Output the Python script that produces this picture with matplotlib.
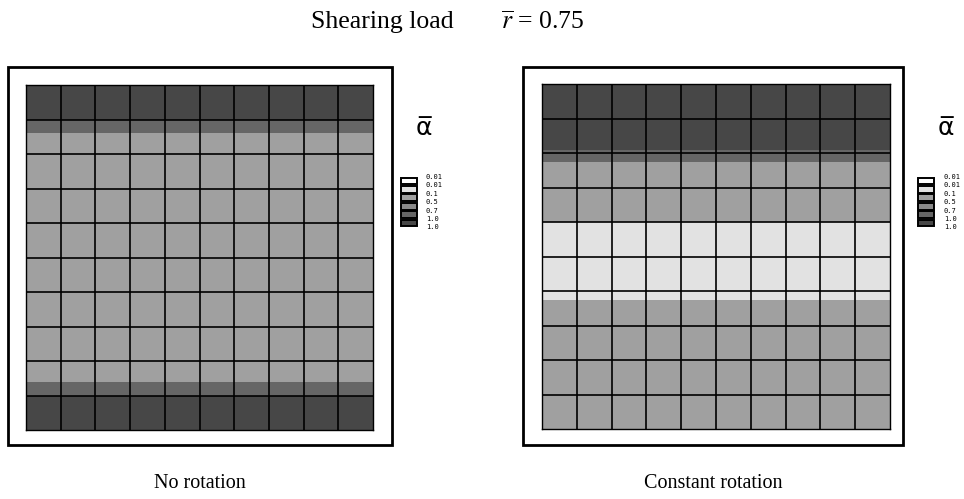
import numpy as np
import matplotlib
matplotlib.use("Agg")
import matplotlib.pyplot as plt
from matplotlib.patches import Rectangle

# legend levels of alpha-bar (class boundaries)
level_labels = ["0.01", "0.01", "0.1", "0.5", "0.7", "1.0", "1.0"]
# grey shade for each of the 6 classes (light -> dark)
class_shades = ["#ffffff", "#e2e2e2", "#a0a0a0", "#8a8a8a", "#666666", "#474747"]

n_cells = 10

# horizontal bands over the mesh, measured in element rows from the top
no_rot_edges = [0, 1.0, 1.4, 8.6, 9.0, 10]
no_rot_class = [5, 4, 2, 4, 5]

const_rot_edges = [0, 1.9, 2.25, 4.0, 6.25, 10]
const_rot_class = [5, 4, 2, 1, 2]

W, H = 964, 499
fig = plt.figure(figsize=(W / 100, H / 100), dpi=100)
plt.rcParams['mathtext.fontset'] = 'stix'
serif = ['Liberation Serif', 'DejaVu Serif']


def px_axes(x0, y0, x1, y1):
    return fig.add_axes([x0 / W, 1 - y1 / H, (x1 - x0) / W, (y1 - y0) / H])


def px_rect(x0, y0, x1, y1, **kw):
    r = Rectangle((x0 / W, 1 - y1 / H), (x1 - x0) / W, (y1 - y0) / H,
                  transform=fig.transFigure, **kw)
    fig.add_artist(r)


def draw_mesh(box, edges, classes):
    ax = px_axes(*box)
    for top, bot, c in zip(edges[:-1], edges[1:], classes):
        ax.axhspan(top, bot, color=class_shades[c], lw=0)
    for k in range(1, n_cells):
        ax.axvline(k, color='black', lw=1.2)
        ax.axhline(k, color='black', lw=1.2)
    ax.set_xlim(0, n_cells)
    ax.set_ylim(n_cells, 0)
    ax.set_xticks([])
    ax.set_yticks([])
    for s in ax.spines.values():
        s.set_linewidth(1.0)
    return ax


def draw_legend(x_box, x_lab, x_sym, y_top):
    fig.text(x_sym / W, 1 - 128 / H, "\u03b1\u0305", fontsize=18,
             ha='center', va='center', family='DejaVu Sans')
    pitch = 8.4
    for i in range(len(class_shades)):
        y0 = y_top + i * pitch + 0.6
        px_rect(x_box, y0, x_box + 16, y0 + 6.8, facecolor=class_shades[i],
                edgecolor='black', lw=1.4)
    for i, lab in enumerate(level_labels):
        fig.text(x_lab / W, 1 - (y_top + i * pitch) / H, lab, fontsize=5.0,
                 family='DejaVu Sans Mono', ha='left', va='center')


# outer frames
px_rect(8, 67, 392, 445, facecolor='none', edgecolor='black', lw=2)
px_rect(523, 67, 903, 445, facecolor='none', edgecolor='black', lw=2)

draw_mesh((26, 85, 373, 430), no_rot_edges, no_rot_class)
draw_mesh((542, 84, 890, 429), const_rot_edges, const_rot_class)

draw_legend(401, 426, 424, 177)
draw_legend(918, 944, 946, 177)

# titles
fig.text(382 / W, 1 - 22 / H, "Shearing load", fontsize=18.5, family=serif,
         ha='center', va='center')
fig.text(543 / W, 1 - 22 / H, r'$\overline{r}$' + " = 0.75", fontsize=18.5,
         family=serif, ha='center', va='center')
fig.text(200 / W, 1 - 483 / H, "No rotation", fontsize=14.5, family=serif,
         ha='center', va='center')
fig.text(713 / W, 1 - 483 / H, "Constant rotation", fontsize=14.5, family=serif,
         ha='center', va='center')

fig.savefig("out.png", dpi=100)
